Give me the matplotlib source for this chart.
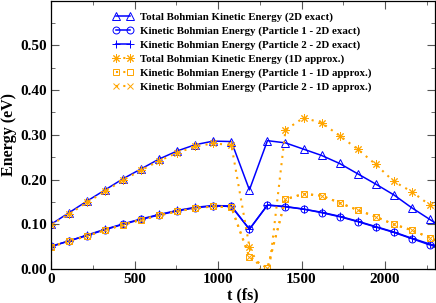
import numpy as np
import matplotlib
matplotlib.use("Agg")
import matplotlib.pyplot as plt

plt.rcParams['font.family'] = ['Liberation Serif', 'DejaVu Serif']
plt.rcParams['font.weight'] = 'bold'

# time grid (fs), last point lies just beyond the x limit
t = [0, 108, 216, 324, 432, 540, 648, 756, 864, 972, 1080, 1188, 1296, 1404,
     1512, 1620, 1728, 1836, 1944, 2052, 2160, 2268, 2376]

# 2D exact
tot_2d = [0.100, 0.126, 0.152, 0.177, 0.202, 0.224, 0.246, 0.264, 0.278, 0.286,
          0.285, 0.177, 0.287, 0.282, 0.268, 0.254, 0.236, 0.213, 0.190, 0.166,
          0.137, 0.111, 0.085]
p1_2d = [0.051, 0.063, 0.075, 0.088, 0.100, 0.111, 0.121, 0.130, 0.137, 0.141,
         0.140, 0.089, 0.143, 0.139, 0.134, 0.126, 0.117, 0.106, 0.094, 0.082,
         0.068, 0.054, 0.041]
p2_2d = [0.050, 0.063, 0.076, 0.089, 0.101, 0.112, 0.122, 0.131, 0.138, 0.142,
         0.141, 0.089, 0.143, 0.140, 0.134, 0.127, 0.118, 0.107, 0.095, 0.083,
         0.069, 0.056, 0.042]

# 1D approx
tot_1d = [0.099, 0.123, 0.149, 0.174, 0.199, 0.221, 0.242, 0.260, 0.274, 0.281,
          0.277, 0.050, -0.035, 0.311, 0.338, 0.327, 0.298, 0.268, 0.234, 0.196,
          0.173, 0.143, 0.115]
p1_1d = [0.050, 0.062, 0.074, 0.087, 0.099, 0.110, 0.120, 0.129, 0.136, 0.140,
         0.138, 0.027, 0.002, 0.156, 0.168, 0.164, 0.148, 0.132, 0.117, 0.100,
         0.087, 0.070, 0.053]
p2_1d = [0.050, 0.062, 0.074, 0.087, 0.099, 0.110, 0.120, 0.129, 0.136, 0.140,
         0.138, 0.027, 0.002, 0.156, 0.168, 0.164, 0.148, 0.132, 0.117, 0.100,
         0.087, 0.070, 0.053]

labels = ["Total Bohmian Kinetic Energy (2D exact)",
          "Kinetic Bohmian Energy (Particle 1 - 2D exact)",
          "Kinetic Bohmian Energy (Particle 2 - 2D exact)",
          "Total Bohmian Kinetic Energy (1D approx.)",
          "Kinetic Bohmian Energy (Particle 1 - 1D approx.)",
          "Kinetic Bohmian Energy (Particle 2 - 1D approx.)"]

blue = '#0000ff'
orange = '#ffa500'
dots = (0, (1, 2.5))

fig = plt.figure(figsize=(4.36, 3.03), dpi=100)
ax = fig.add_axes([0.117, 0.112, 0.881, 0.886])

ax.plot(t, tot_2d, color=blue, lw=1.1, marker='^', ms=5.5, mfc='none', mew=0.7, label=labels[0])
ax.plot(t, p1_2d, color=blue, lw=1.1, marker='o', ms=5, mfc='none', mew=0.7, label=labels[1])
ax.plot(t, p2_2d, color=blue, lw=1.1, marker='+', ms=6, mew=0.7, label=labels[2])
ax.plot(t, tot_1d, color=orange, lw=1.5, ls=dots, marker=(8, 2, 0), ms=6, mew=0.7, label=labels[3])
ax.plot(t, p1_1d, color=orange, lw=1.5, ls=dots, marker='s', ms=5, mfc='none', mew=0.7, label=labels[4])
ax.plot(t, p2_1d, color=orange, lw=1.5, ls=dots, marker='x', ms=4, mew=0.7, label=labels[5])

ax.set_xlim(0, 2300)
ax.set_ylim(0, 0.6)
ax.set_xticks([0, 500, 1000, 1500, 2000])
ax.set_xticks(np.arange(0, 2300, 250), minor=True)
ax.set_yticks([0, 0.1, 0.2, 0.3, 0.4, 0.5])
ax.set_yticklabels(["0.00", "0.10", "0.20", "0.30", "0.40", "0.50"])
ax.set_yticks(np.arange(0, 0.6, 0.05), minor=True)
ax.tick_params(which='both', direction='in', top=True, right=True, color='#555555',
               labelsize=11, pad=3)
ax.tick_params(which='major', length=6)
ax.tick_params(which='minor', length=3)
for s in ax.spines.values():
    s.set_linewidth(0.9)

ax.set_xlabel("t (fs)", fontsize=11.5, fontweight='bold', labelpad=1)
ax.set_ylabel("Energy (eV)", fontsize=11.5, fontweight='bold', labelpad=2)

ax.legend(loc='upper left', bbox_to_anchor=(0.15, 0.972), frameon=False, numpoints=2,
          handlelength=1.85, handletextpad=0.65, labelspacing=0.38,
          borderaxespad=0, prop={'weight': 'bold', 'size': 7.8})

fig.savefig("out.png", dpi=100)
